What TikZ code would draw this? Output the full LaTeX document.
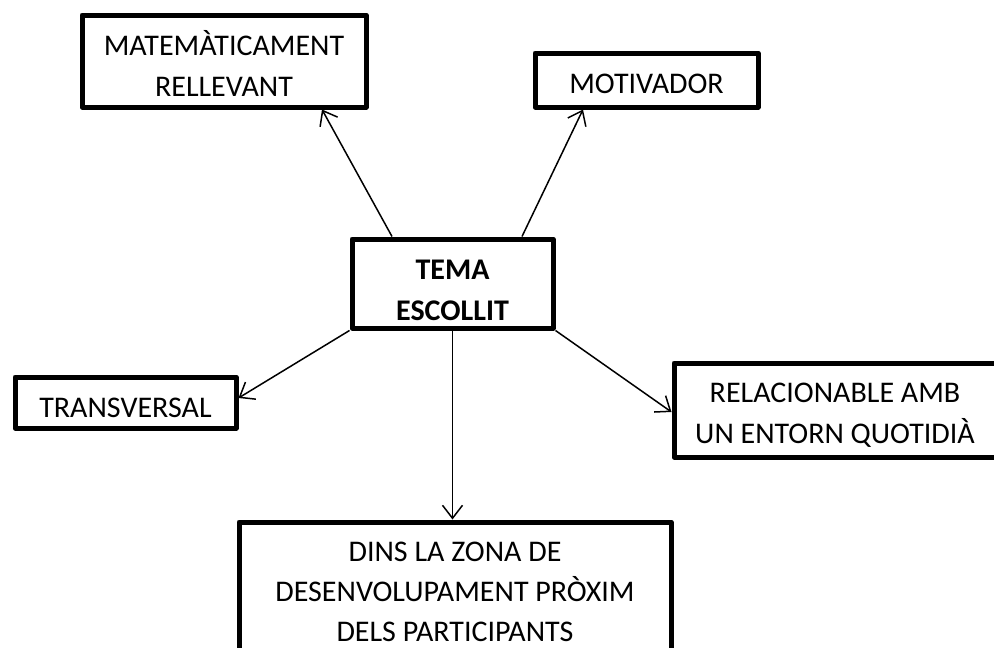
\documentclass[tikz,border=0pt]{standalone}
\usepackage{fontspec}
\setmainfont{Carlito}
\usetikzlibrary{arrows.meta}
\begin{document}
\begin{tikzpicture}[x=1pt,y=-1pt,
  box/.style={draw, line width=5pt, line join=round, inner sep=0pt},
  txt/.style={align=center, inner sep=0pt, font=\fontsize{30}{41}\selectfont},
  link/.style={line width=1.5pt, -{Straight Barb[length=13pt,width=20pt,line width=1.5pt]}}]
\useasboundingbox (0,0) rectangle (994,648);
% central topic
\node[box, minimum width=201pt, minimum height=89pt,
  label={[txt, font=\fontsize{30}{41}\selectfont\bfseries, yshift=-7pt]center:{TEMA\\ESCOLLIT}}] (tema) at (452.5,283.5) {};
% surrounding criteria
\node[box, minimum width=284pt, minimum height=92pt,
  label={[txt, yshift=-2pt]center:{MATEMÀTICAMENT\\RELLEVANT}}] (mat) at (224,61) {};
\node[box, minimum width=223pt, minimum height=54pt,
  label={[txt, yshift=-4pt]center:{MOTIVADOR}}] (mot) at (646.5,80) {};
\node[box, minimum width=221pt, minimum height=51pt,
  label={[txt, yshift=-5pt]center:{TRANSVERSAL}}] (trans) at (125.5,402.5) {};
\node[box, minimum width=322pt, minimum height=94pt,
  label={[txt, yshift=-5pt]center:{RELACIONABLE AMB\\UN ENTORN QUOTIDIÀ}}] (rel) at (835,410) {};
\node[box, minimum width=432pt, minimum height=140pt,
  label={[txt, font=\fontsize{30}{40}\selectfont]center:{DINS LA ZONA DE\\DESENVOLUPAMENT PRÒXIM\\DELS PARTICIPANTS}}] (dins) at (455,592) {};
% connectors
\draw[link] ([xshift=42.5pt]tema.north west) -- ([xshift=242.5pt]mat.south west);
\draw[link] ([xshift=172.5pt]tema.north west) -- ([xshift=50.5pt]mot.south west);
\draw[link] (tema.south west) -- ([yshift=4.5pt]trans.east);
\draw[link] (tema.south east) -- ([yshift=-2pt]rel.west);
\draw[link] (tema.south) -- (tema.south |- dins.north);
\end{tikzpicture}
\end{document}
